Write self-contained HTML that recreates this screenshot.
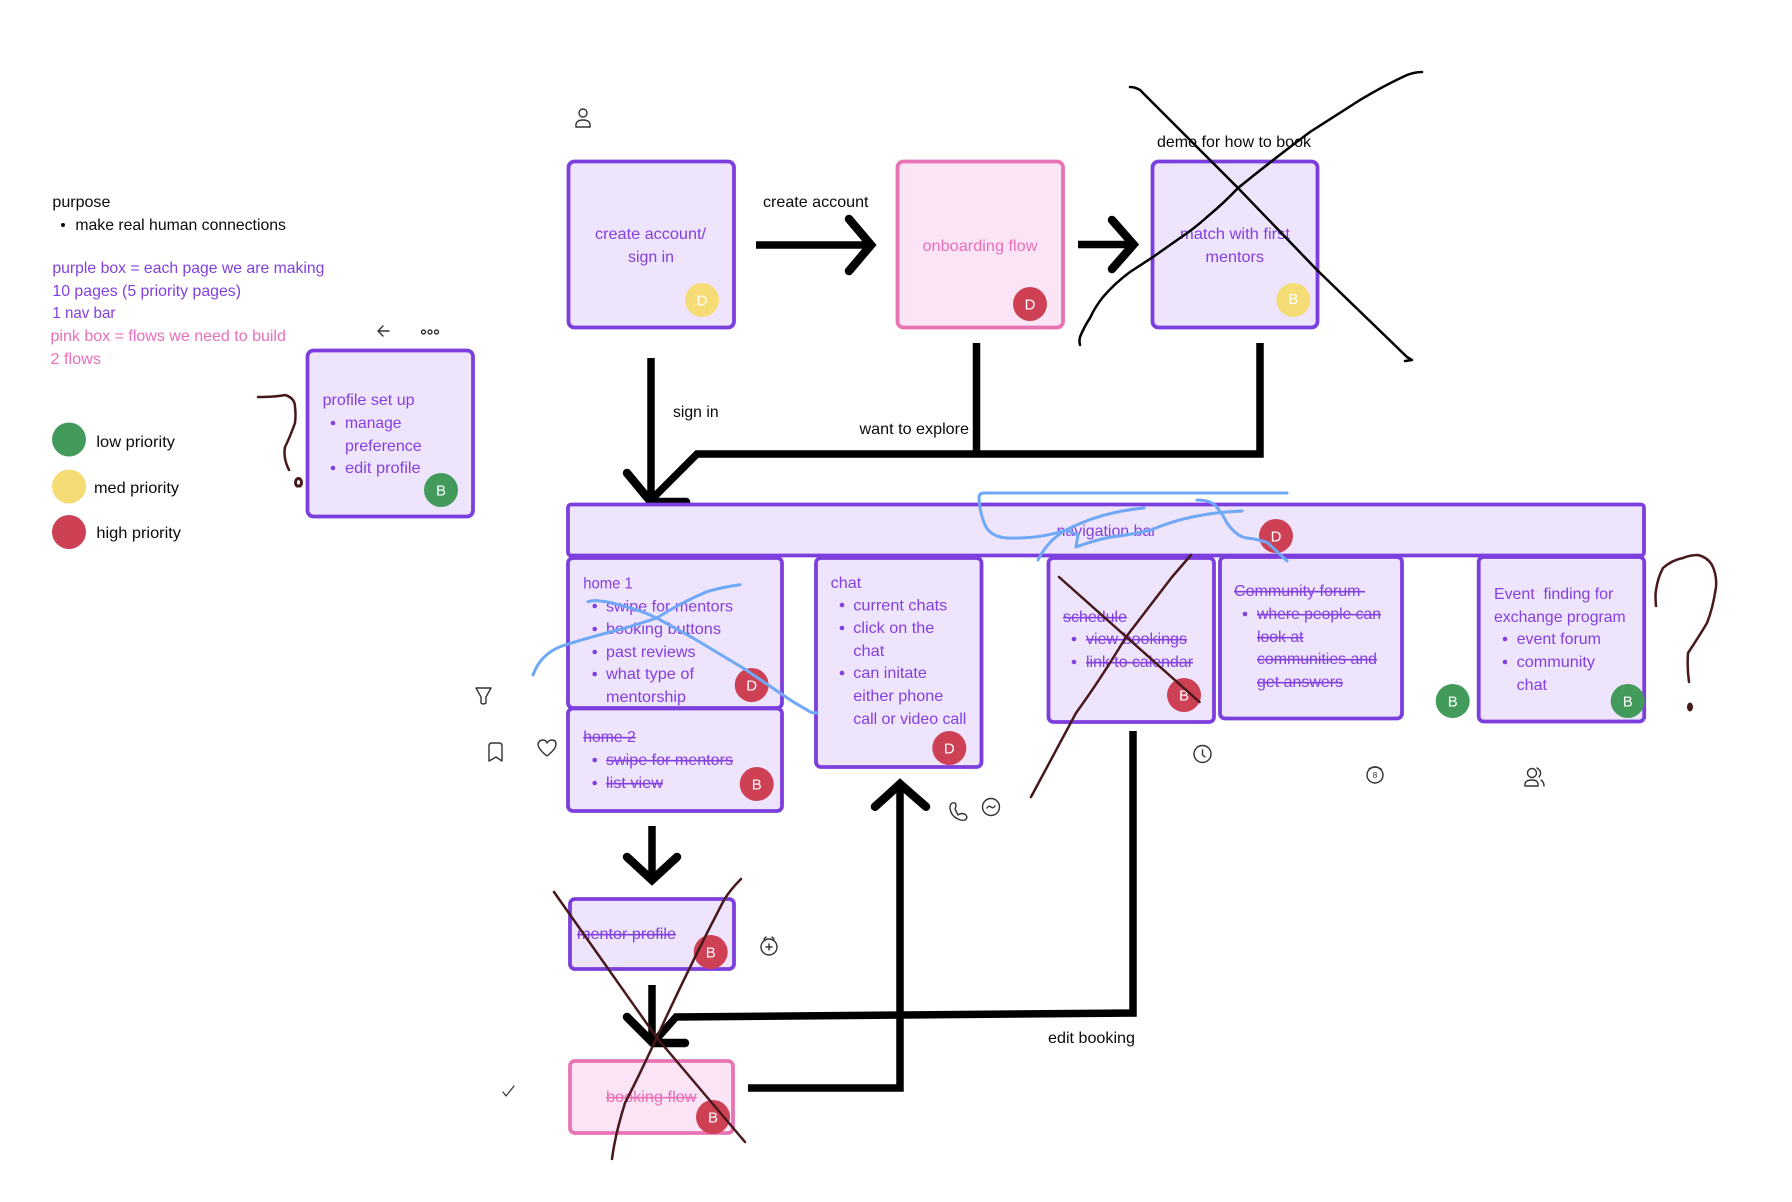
<!DOCTYPE html>
<html>
<head>
<meta charset="utf-8">
<title>Flow diagram</title>
<style>
html,body{margin:0;padding:0;background:#fff;width:1792px;height:1202px;overflow:hidden}
svg{display:block}
text{font-family:"Liberation Sans",sans-serif;font-size:16px}
.k{fill:#0a0a0a}
.p{fill:#8340e0}
.n{fill:#ea6fb6}
.s{text-decoration:line-through}
.a{fill:#fff;font-size:15px;text-anchor:middle}
.bp{fill:#eee4fc;stroke:#7c3fdd;stroke-width:3.800}
.bn{fill:#fae4f6;stroke:#e874b4;stroke-width:3.800}
.f{fill:none;stroke:#000;stroke-width:7.500}
.fr{fill:none;stroke:#000;stroke-width:8.500;stroke-linecap:round;stroke-linejoin:miter}
.bl{fill:none;stroke:#6fa8f7;stroke-width:3;stroke-linecap:round;stroke-linejoin:round}
.d{fill:none;stroke:#47181c;stroke-width:2.500;stroke-linecap:round;stroke-linejoin:round}
.x{fill:none;stroke:#000;stroke-width:2.500;stroke-linecap:round;stroke-linejoin:round}
.i{fill:none;stroke:#333;stroke-width:1.400;stroke-linecap:round;stroke-linejoin:round}
.b{fill:#8340e0}
</style>
</head>
<body>
<svg width="1792" height="1202" viewBox="0 0 1792 1202" xmlns="http://www.w3.org/2000/svg">
<rect width="1792" height="1202" fill="#fff"/>

<!-- legend text -->
<text class="k" x="52.400" y="207" textLength="58" lengthAdjust="spacingAndGlyphs">purpose</text>
<circle cx="63" cy="225" r="2" fill="#0a0a0a"/>
<text class="k" x="75.400" y="230" textLength="210.500" lengthAdjust="spacingAndGlyphs">make real human connections</text>
<text class="p" x="52.400" y="273" textLength="272" lengthAdjust="spacingAndGlyphs">purple box = each page we are making</text>
<text class="p" x="52.400" y="296" textLength="188.600" lengthAdjust="spacingAndGlyphs">10 pages (5 priority pages)</text>
<text class="p" x="52.400" y="318" textLength="63" lengthAdjust="spacingAndGlyphs">1 nav bar</text>
<text class="n" x="50.500" y="341" textLength="235.400" lengthAdjust="spacingAndGlyphs">pink box = flows we need to build</text>
<text class="n" x="50.500" y="364" textLength="50.500" lengthAdjust="spacingAndGlyphs">2 flows</text>

<circle cx="69" cy="439.500" r="17" fill="#439b5b"/>
<circle cx="69" cy="486.500" r="17" fill="#f6dc74"/>
<circle cx="69" cy="532" r="17" fill="#ce4155"/>
<text class="k" x="96.400" y="447" textLength="78.600" lengthAdjust="spacingAndGlyphs">low priority</text>
<text class="k" x="94" y="493" textLength="85" lengthAdjust="spacingAndGlyphs">med priority</text>
<text class="k" x="96.400" y="538" textLength="84.600" lengthAdjust="spacingAndGlyphs">high priority</text>

<!-- connectors beneath boxes -->
<path class="f" d="M756 245H868"/>
<path class="fr" d="M849 219L871 245L849 271"/>
<path class="f" d="M1078 244.500H1130"/>
<path class="fr" d="M1112 220L1133.500 244.500L1112 269"/>
<path class="f" d="M651 358V500"/>
<path class="f" d="M976.500 343V454"/>
<path class="f" d="M1260 343V454H697L651 500"/>
<path class="fr" d="M627 473L651 502H686"/>

<!-- top boxes -->
<rect class="bp" x="568.500" y="161.500" width="165.500" height="166" rx="6"/>
<rect class="bn" x="897.500" y="161.500" width="165.500" height="166" rx="6"/>
<rect class="bp" x="1152.500" y="161.500" width="165" height="166" rx="6"/>
<rect class="bp" x="307.500" y="350.500" width="165.500" height="166" rx="6"/>

<text class="p" x="595" y="239" textLength="111" lengthAdjust="spacingAndGlyphs">create account/</text>
<text class="p" x="628" y="262" textLength="46" lengthAdjust="spacingAndGlyphs">sign in</text>
<text class="n" x="922.500" y="251" textLength="115" lengthAdjust="spacingAndGlyphs">onboarding flow</text>
<text class="p" x="1180" y="239" textLength="110" lengthAdjust="spacingAndGlyphs">match with first</text>
<text class="p" x="1205.500" y="262" textLength="58.500" lengthAdjust="spacingAndGlyphs">mentors</text>

<text class="k" x="763" y="207" textLength="105.500" lengthAdjust="spacingAndGlyphs">create account</text>
<text class="k" x="673" y="417" textLength="45.600" lengthAdjust="spacingAndGlyphs">sign in</text>
<text class="k" x="859.500" y="434" textLength="109.500" lengthAdjust="spacingAndGlyphs">want to explore</text>
<text class="k" x="1157" y="147" textLength="154" lengthAdjust="spacingAndGlyphs">demo for how to book</text>
<text class="k" x="1048" y="1043" textLength="87" lengthAdjust="spacingAndGlyphs">edit booking</text>

<text class="p" x="322.600" y="405" textLength="92" lengthAdjust="spacingAndGlyphs">profile set up</text>
<circle class="b" cx="333" cy="423" r="2.300"/>
<text class="p" x="345" y="428" textLength="56.500" lengthAdjust="spacingAndGlyphs">manage</text>
<text class="p" x="345" y="451" textLength="76.700" lengthAdjust="spacingAndGlyphs">preference</text>
<circle class="b" cx="333" cy="468" r="2.300"/>
<text class="p" x="345" y="473" textLength="75.600" lengthAdjust="spacingAndGlyphs">edit profile</text>

<!-- pages -->
<rect class="bp" x="568" y="558" width="214" height="150" rx="5"/>
<rect class="bp" x="568" y="708.500" width="214" height="102.500" rx="5"/>
<rect class="bp" x="816" y="558" width="165.500" height="209" rx="5"/>
<rect class="bp" x="1048.500" y="558" width="165.500" height="164" rx="5"/>
<rect class="bp" x="1220" y="557" width="182" height="161.500" rx="5"/>
<rect class="bp" x="1478.700" y="557" width="165.500" height="164.500" rx="5"/>
<rect class="bp" x="568" y="504.500" width="1076" height="51" rx="3"/>

<text class="p" x="1056.600" y="536" textLength="100" lengthAdjust="spacingAndGlyphs">navigation bar</text>

<text class="p" x="583.300" y="588.500" textLength="49.500" lengthAdjust="spacingAndGlyphs">home 1</text>
<circle class="b" cx="594.700" cy="606" r="2.300"/><text class="p" x="606" y="611.300" textLength="127" lengthAdjust="spacingAndGlyphs">swipe for mentors</text>
<circle class="b" cx="594.700" cy="629" r="2.300"/><text class="p" x="606" y="634" textLength="115" lengthAdjust="spacingAndGlyphs">booking buttons</text>
<circle class="b" cx="594.700" cy="652" r="2.300"/><text class="p" x="606" y="657" textLength="89.500" lengthAdjust="spacingAndGlyphs">past reviews</text>
<circle class="b" cx="594.700" cy="674" r="2.300"/><text class="p" x="606" y="679" textLength="88" lengthAdjust="spacingAndGlyphs">what type of</text>
<text class="p" x="606" y="702" textLength="80" lengthAdjust="spacingAndGlyphs">mentorship</text>

<text class="p s" x="583.300" y="742" textLength="52.500" lengthAdjust="spacingAndGlyphs">home 2</text>
<circle class="b" cx="594.700" cy="760" r="2.300"/><text class="p s" x="606" y="765" textLength="127" lengthAdjust="spacingAndGlyphs">swipe for mentors</text>
<circle class="b" cx="594.700" cy="783" r="2.300"/><text class="p s" x="606" y="788" textLength="57" lengthAdjust="spacingAndGlyphs">list view</text>

<text class="p" x="830.700" y="588" textLength="30.500" lengthAdjust="spacingAndGlyphs">chat</text>
<circle class="b" cx="842" cy="605" r="2.300"/><text class="p" x="853.300" y="610.300" textLength="94" lengthAdjust="spacingAndGlyphs">current chats</text>
<circle class="b" cx="842" cy="628" r="2.300"/><text class="p" x="853.300" y="633" textLength="81" lengthAdjust="spacingAndGlyphs">click on the</text>
<text class="p" x="853.300" y="656" textLength="31" lengthAdjust="spacingAndGlyphs">chat</text>
<circle class="b" cx="842" cy="673" r="2.300"/><text class="p" x="853.300" y="678" textLength="73.500" lengthAdjust="spacingAndGlyphs">can initate</text>
<text class="p" x="853.300" y="701" textLength="90" lengthAdjust="spacingAndGlyphs">either phone</text>
<text class="p" x="853.300" y="724" textLength="113" lengthAdjust="spacingAndGlyphs">call or video call</text>

<text class="p s" x="1063" y="622" textLength="64" lengthAdjust="spacingAndGlyphs">schedule</text>
<circle class="b" cx="1074" cy="639" r="2.300"/><text class="p s" x="1086" y="644" textLength="101" lengthAdjust="spacingAndGlyphs">view bookings</text>
<circle class="b" cx="1074" cy="662" r="2.300"/><text class="p s" x="1086" y="667" textLength="107" lengthAdjust="spacingAndGlyphs">link to calendar</text>

<text class="p s" x="1234" y="596" textLength="131" lengthAdjust="spacingAndGlyphs" xml:space="preserve">Community forum </text>
<circle class="b" cx="1245" cy="614" r="2.300"/><text class="p s" x="1257" y="619" textLength="124" lengthAdjust="spacingAndGlyphs">where people can</text>
<text class="p s" x="1257" y="642" textLength="46.500" lengthAdjust="spacingAndGlyphs">look at</text>
<text class="p s" x="1257" y="664" textLength="120" lengthAdjust="spacingAndGlyphs">communities and</text>
<text class="p s" x="1257" y="687" textLength="86" lengthAdjust="spacingAndGlyphs">get answers</text>

<text class="p" x="1494" y="599" textLength="119.300" lengthAdjust="spacingAndGlyphs" xml:space="preserve">Event  finding for</text>
<text class="p" x="1494" y="622" textLength="131.700" lengthAdjust="spacingAndGlyphs">exchange program</text>
<circle class="b" cx="1505" cy="639" r="2.300"/><text class="p" x="1516.600" y="644" textLength="84.400" lengthAdjust="spacingAndGlyphs">event forum</text>
<circle class="b" cx="1505" cy="662" r="2.300"/><text class="p" x="1516.600" y="667" textLength="78.400" lengthAdjust="spacingAndGlyphs">community</text>
<text class="p" x="1516.600" y="690" textLength="30.400" lengthAdjust="spacingAndGlyphs">chat</text>

<!-- lower boxes -->
<path class="f" d="M652 826V876"/>
<path class="fr" d="M627 857L652 880L677 857" style="stroke-linejoin:miter"/>
<path class="f" d="M652 985V1040"/>
<path class="fr" d="M627 1017L653 1043"/>
<path class="f" d="M1133 731V1013L676 1017L653 1043"/>
<path class="fr" d="M653 1043H685"/>
<path class="f" d="M748 1088H900V790"/>
<path class="fr" d="M875 806.700L900 784L926 806.700"/>

<rect class="bp" x="570" y="899" width="164" height="70" rx="5"/>
<text class="p s" x="577" y="939" textLength="99" lengthAdjust="spacingAndGlyphs">mentor profile</text>
<rect class="bn" x="570" y="1061" width="163" height="72" rx="5"/>
<text class="n s" x="606" y="1102" textLength="90.500" lengthAdjust="spacingAndGlyphs">booking flow</text>

<!-- avatars -->
<g>
<circle cx="702" cy="300" r="17" fill="#f6dc74"/><text class="a" x="702" y="305.500">D</text>
<circle cx="1030" cy="304" r="17" fill="#ce4155"/><text class="a" x="1030" y="309.500">D</text>
<circle cx="1293.300" cy="300" r="17" fill="#f6dc74"/><text class="a" x="1293.300" y="304">B</text>
<circle cx="441" cy="490" r="17" fill="#439b5b"/><text class="a" x="441" y="495.500">B</text>
<circle cx="1276" cy="536" r="17" fill="#ce4155"/><text class="a" x="1276" y="541.500">D</text>
<circle cx="751.700" cy="685" r="17" fill="#ce4155"/><text class="a" x="751.700" y="690.500">D</text>
<circle cx="756.700" cy="784" r="17" fill="#ce4155"/><text class="a" x="756.700" y="789.500">B</text>
<circle cx="949.300" cy="748" r="17" fill="#ce4155"/><text class="a" x="949.300" y="753.500">D</text>
<circle cx="1184" cy="695" r="17" fill="#ce4155"/><text class="a" x="1184" y="700.500">B</text>
<circle cx="1452.700" cy="701" r="17" fill="#439b5b"/><text class="a" x="1452.700" y="706.500">B</text>
<circle cx="1627.700" cy="701" r="17" fill="#439b5b"/><text class="a" x="1627.700" y="706.500">B</text>
<circle cx="710.700" cy="952" r="17" fill="#ce4155"/><text class="a" x="710.700" y="957.500">B</text>
<circle cx="713" cy="1117" r="17" fill="#ce4155"/><text class="a" x="713" y="1122.500">B</text>
</g>

<!-- hand strokes -->
<path class="bl" d="M1287 493H984Q979 493 979 498Q980 515 986 527Q992 537 1007 538Q1040 539 1066 530"/>
<path class="bl" d="M1144 508Q1101 512 1066 530Q1048 540 1038 560M1066 530L1078 535L1076 547Q1095 540 1111 537Q1130 535 1151 530Q1190 513 1242 511"/>
<path class="bl" d="M1197 500Q1209 500 1215 505Q1222 513 1227 523Q1237 537 1247 538Q1262 540 1268 543L1287 561"/>
<path class="bl" d="M740 584.700Q722 587 706.700 591.700Q680 603 656.700 618Q630 627 606.700 633Q580 640 560 646.700Q540 655 533 675"/>
<path class="bl" d="M588 601.700Q594 600 600 601Q610 602 620 605Q640 610 656.700 618Q675 628 693 638L743 668L793 701.700L811.700 712.700H817"/>

<path class="x" d="M1130 87Q1135 87 1140 90L1238 188L1317 270L1407 357L1412 360L1405 361"/>
<path class="x" d="M1422 72Q1415 72 1407 75Q1385 85 1360 100L1310 132Q1275 158 1238 188Q1225 202 1207 217Q1195 228 1180 238L1153 257L1130 272Q1115 283 1103 297Q1095 307 1090 318Q1084 327 1080 337Q1079 341 1080 345"/>

<path class="d" d="M1059 577L1199.500 702"/>
<path class="d" d="M1191 555L1172 577L1126 637Q1100 680 1076 713L1031 797"/>
<path class="d" d="M554 892L657 1038L745 1142"/>
<path class="d" d="M741 879Q730 890 724 900Q690 965 657 1037Q637 1080 625 1103Q615 1135 612 1159"/>
<path class="d" d="M258 397Q275 397 285 395Q295 398 295 407Q296 415 295 423Q290 437 285 447Q283 458 289 470"/>
<path d="M297 486a3 4 0 1 1 3 0z" fill="none" stroke="#47181c" stroke-width="3"/>
<path class="d" d="M1656 606Q1655 595 1656 590Q1658 577 1663 568Q1672 560 1683 558Q1690 555 1698 555Q1707 557 1712 565Q1717 575 1716 587Q1713 608 1707 623Q1698 638 1688 653Q1687 668 1689 682"/>
<ellipse cx="1690" cy="707" rx="3" ry="4.500" fill="#47181c"/>

<!-- icons -->
<g class="i">
<circle cx="583" cy="113" r="4"/><path d="M576 127H590Q591 120 583 120Q575 120 576 127Z"/>
<path d="M389 331H378M383 326L378 331L383 336"/>
<circle cx="423.500" cy="332" r="2"/><circle cx="430" cy="332" r="2"/><circle cx="436.500" cy="332" r="2"/>
<path d="M476 688H491L486 697V703Q483 705 481 703V697Z"/>
<path d="M489 746Q489 743 492 743H499Q502 743 502 746V761L496 757L489 761Z"/>
<path d="M547 756Q538 749 538 744Q539 740 543 740Q546 740 547 743Q549 740 552 740Q556 740 556 744Q556 749 547 756Z"/>
<path d="M955 803Q950 802 950 808Q951 816 958 819Q962 821 965 820Q968 818 966 815Q962 812 958 815L955 809Q957 805 955 803Z"/>
<circle cx="991" cy="807" r="8.500"/><path d="M987 808Q989 805 991 807Q993 809 995 806"/>
<circle cx="1202.500" cy="754" r="8.500"/><path d="M1202.500 750V755L1205 757"/>
<circle cx="1375" cy="775" r="8"/><path d="M1369 769Q1375 765 1381 769"/>
<circle cx="1532" cy="773" r="4.500"/><path d="M1525 786H1538Q1539 780 1532 780Q1524 780 1525 786Z"/><path d="M1537 768Q1543 772 1539 777M1541 780Q1544 782 1544 786"/>
<circle cx="769" cy="947" r="8"/><path d="M769 944V950M766 947H772M764 939L766 937M774 939L772 937"/>
<path d="M503 1092L506 1096L514 1086" stroke-width="1.200"/>
</g>
<text x="1375" y="778" style="font-size:8px;fill:#333;text-anchor:middle">8</text>
</svg>
</body>
</html>
